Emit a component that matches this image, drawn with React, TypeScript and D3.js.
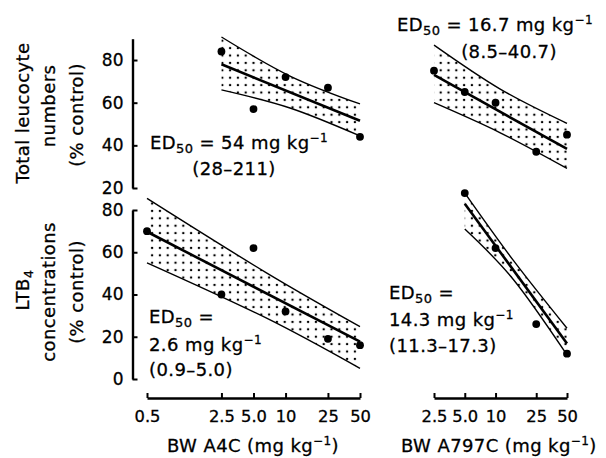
import React, { useEffect, useRef } from 'react';
import * as d3 from 'd3';

// leucocyte numbers (% control), top row
const leucoA4CDose = [2.5, 5, 10, 25, 50];
const leucoA4C = [84, 57, 72, 67, 44];
const leucoA797CDose = [2.5, 5, 10, 25, 50];
const leucoA797C = [75, 65, 60, 37, 45];

// LTB4 concentrations (% control), bottom row
const ltbA4CDose = [0.5, 2.5, 5, 10, 25, 50];
const ltbA4C = [70, 40, 62, 32, 19, 16];
const ltbA797CDose = [5, 10, 25, 50];
const ltbA797C = [88, 62, 26, 12];

// fitted lines (end points) and confidence bands
const leucoA4CFitDose = [2.5, 50];
const leucoA4CFit = [78, 51.5];
const leucoA4CBandDose = [2.5, 11, 50];
const leucoA4CUpper = [90.8, 72.5, 59.4];
const leucoA4CLower = [66, 57.5, 44.4];

const leucoA797CFitDose = [2.5, 50];
const leucoA797CFit = [73, 38.3];
const leucoA797CBandDose = [2.5, 11, 50];
const leucoA797CUpper = [87, 66.5, 50.3];
const leucoA797CLower = [60, 46, 29.2];

const ltbA4CFitDose = [0.5, 50];
const ltbA4CFit = [69.7, 17.7];
const ltbA4CBandDose = [0.5, 6.5, 50];
const ltbA4CUpper = [85.5, 50.5, 24.8];
const ltbA4CLower = [55, 29, 5];

const ltbA797CFitDose = [5, 50];
const ltbA797CFit = [83, 16.8];
const ltbA797CBandDose = [5, 15, 50];
const ltbA797CUpper = [88, 56, 24];
const ltbA797CLower = [71, 47, 11.4];

// axis ticks
const leftDoseTicks = [0.5, 2.5, 5, 10, 25, 50];
const leftDoseLabels = ['0.5', '2.5', '5.0', '10', '25', '50'];
const rightDoseTicks = [2.5, 5, 10, 25, 50];
const rightDoseLabels = ['2.5', '5.0', '10', '25', '50'];
const leucoTicks = [20, 40, 60, 80];
const ltbTicks = [0, 20, 40, 60, 80];

const FONT = '"DejaVu Sans", Verdana, sans-serif';

type Part = { t: string; size?: number; dy?: number };

function App() {
  const ref = useRef<SVGSVGElement>(null);

  useEffect(() => {
    document.body.style.margin = '0';
    const svg = d3.select(ref.current);
    svg.selectAll('*').remove();

    const defs = svg.append('defs');
    const pat = defs.append('pattern')
      .attr('id', 'dots')
      .attr('patternUnits', 'userSpaceOnUse')
      .attr('width', 7.8)
      .attr('height', 7.4);
    pat.append('circle').attr('cx', 3.9).attr('cy', 3.7).attr('r', 1.2).attr('fill', '#000');

    const xLeft = d3.scaleLog().domain([0.5, 50]).range([147, 360]);
    const xRight = d3.scaleLog().domain([2.5, 50]).range([434, 567]);
    const yTop = d3.scaleLinear().domain([20, 90]).range([188, 38.7]);
    const yBot = d3.scaleLinear().domain([0, 80]).range([379, 210]);

    const styleAxis = (g: any, size: number) => {
      g.select('.domain').attr('stroke-width', 2.4);
      g.selectAll('.tick line').attr('stroke-width', 2);
      g.selectAll('.tick text').attr('font-family', FONT).attr('font-size', size).attr('fill', '#000')
        .attr('stroke', '#000').attr('stroke-width', 0.3);
    };

    // y axes
    const yAxisTop = d3.axisLeft(yTop).tickValues(leucoTicks).tickSizeInner(-5).tickSizeOuter(0).tickPadding(9);
    const yAxisBot = d3.axisLeft(yBot).tickValues(ltbTicks).tickSizeInner(-5).tickSizeOuter(0).tickPadding(9);
    [yAxisTop, yAxisBot].forEach((ax) => {
      const g = svg.append('g').attr('transform', 'translate(132.5,0)').call(ax as any);
      styleAxis(g, 17);
    });

    // x axes
    const xAxisL = d3.axisBottom(xLeft).tickValues(leftDoseTicks)
      .tickFormat((_d, i) => leftDoseLabels[i]).tickSizeInner(-5).tickSizeOuter(0).tickPadding(12.5);
    const xAxisR = d3.axisBottom(xRight).tickValues(rightDoseTicks)
      .tickFormat((_d, i) => rightDoseLabels[i]).tickSizeInner(-5).tickSizeOuter(0).tickPadding(12.5);
    [xAxisL, xAxisR].forEach((ax) => {
      const g = svg.append('g').attr('transform', 'translate(0,398)').call(ax as any);
      styleAxis(g, 16.3);
    });

    // panels
    const panels = [
      { x: xLeft, y: yTop, dose: leucoA4CDose, val: leucoA4C, fd: leucoA4CFitDose, fit: leucoA4CFit,
        bd: leucoA4CBandDose, up: leucoA4CUpper, lo: leucoA4CLower },
      { x: xRight, y: yTop, dose: leucoA797CDose, val: leucoA797C, fd: leucoA797CFitDose, fit: leucoA797CFit,
        bd: leucoA797CBandDose, up: leucoA797CUpper, lo: leucoA797CLower },
      { x: xLeft, y: yBot, dose: ltbA4CDose, val: ltbA4C, fd: ltbA4CFitDose, fit: ltbA4CFit,
        bd: ltbA4CBandDose, up: ltbA4CUpper, lo: ltbA4CLower },
      { x: xRight, y: yBot, dose: ltbA797CDose, val: ltbA797C, fd: ltbA797CFitDose, fit: ltbA797CFit,
        bd: ltbA797CBandDose, up: ltbA797CUpper, lo: ltbA797CLower },
    ];

    panels.forEach((p) => {
      const band = p.bd.map((d, i) => ({ d, up: p.up[i], lo: p.lo[i] }));
      const area = d3.area<any>()
        .x((b) => p.x(b.d)).y0((b) => p.y(b.lo)).y1((b) => p.y(b.up))
        .curve(d3.curveNatural);
      svg.append('path').datum(band).attr('d', area).attr('fill', 'url(#dots)');

      const edge = (key: 'up' | 'lo') => d3.line<any>()
        .x((b) => p.x(b.d)).y((b) => p.y(b[key])).curve(d3.curveNatural);
      ['up', 'lo'].forEach((k) => {
        svg.append('path').datum(band).attr('d', edge(k as any))
          .attr('fill', 'none').attr('stroke', '#000').attr('stroke-width', 1.4);
      });

      const fitPts = p.fd.map((d, i) => ({ d, v: p.fit[i] }));
      svg.append('path').datum(fitPts)
        .attr('d', d3.line<any>().x((b) => p.x(b.d)).y((b) => p.y(b.v)))
        .attr('fill', 'none').attr('stroke', '#000').attr('stroke-width', 2.6);

      svg.selectAll(null).data(p.dose.map((d, i) => ({ d, v: p.val[i] })))
        .enter().append('circle')
        .attr('cx', (b) => p.x(b.d)).attr('cy', (b) => p.y(b.v))
        .attr('r', 3.9).attr('fill', '#000');
    });

    // rich text helper (sub/superscripts)
    const rich = (x: number, y: number, parts: Part[], anchor = 'start', rotate = false) => {
      const t = svg.append('text')
        .attr('font-family', FONT).attr('font-size', 18).attr('fill', '#000')
        .attr('stroke', '#000').attr('stroke-width', 0.3)
        .attr('letter-spacing', 0.4)
        .attr('text-anchor', anchor);
      if (rotate) t.attr('transform', `translate(${x},${y}) rotate(-90)`);
      else t.attr('x', x).attr('y', y);
      parts.forEach((pt) => {
        const s = t.append('tspan').text(pt.t);
        if (pt.size) s.attr('font-size', pt.size);
        if (pt.dy) s.attr('dy', pt.dy);
      });
    };

    const ed = (rest: string): Part[] => [
      { t: 'ED' }, { t: '50', size: 13, dy: 4 }, { t: ' = ' + rest, size: 18, dy: -4 },
    ];
    const unit = (pre: string): Part[] => [
      { t: pre + 'mg kg' }, { t: '\u22121', size: 12, dy: -7 },
    ];

    rich(150, 149, [...ed('54 mg kg'), { t: '\u22121', size: 12, dy: -7 }]);
    rich(234, 175, [{ t: '(28\u2013211)' }], 'middle');
    rich(397, 31, [...ed('16.7 mg kg'), { t: '\u22121', size: 12, dy: -7 }]);
    rich(509, 58, [{ t: '(8.5\u201340.7)' }], 'middle');

    rich(149, 323, ed(''));
    rich(149, 351, unit('2.6 '));
    rich(149, 376, [{ t: '(0.9\u20135.0)' }]);

    rich(389, 299, ed(''));
    rich(389, 326, unit('14.3 '));
    rich(389, 352, [{ t: '(11.3\u201317.3)' }]);

    // axis titles
    rich(167, 452, [{ t: 'BW A4C (' }, ...unit(''), { t: ')', size: 18, dy: 7 }]);
    rich(401, 452, [{ t: 'BW A797C (' }, ...unit(''), { t: ')', size: 18, dy: 7 }]);

    rich(29, 113, [{ t: 'Total leucocyte' }], 'middle', true);
    rich(55, 106, [{ t: 'numbers' }], 'middle', true);
    rich(83, 115, [{ t: '(% control)' }], 'middle', true);

    rich(29, 290, [{ t: 'LTB' }, { t: '4', size: 13, dy: 4 }], 'middle', true);
    rich(55, 292, [{ t: 'concentrations' }], 'middle', true);
    rich(83, 292, [{ t: '(% control)' }], 'middle', true);
  }, []);

  return <svg ref={ref} width={606} height={458} style={{ display: 'block', background: '#fff' }} />;
}

export default App;
